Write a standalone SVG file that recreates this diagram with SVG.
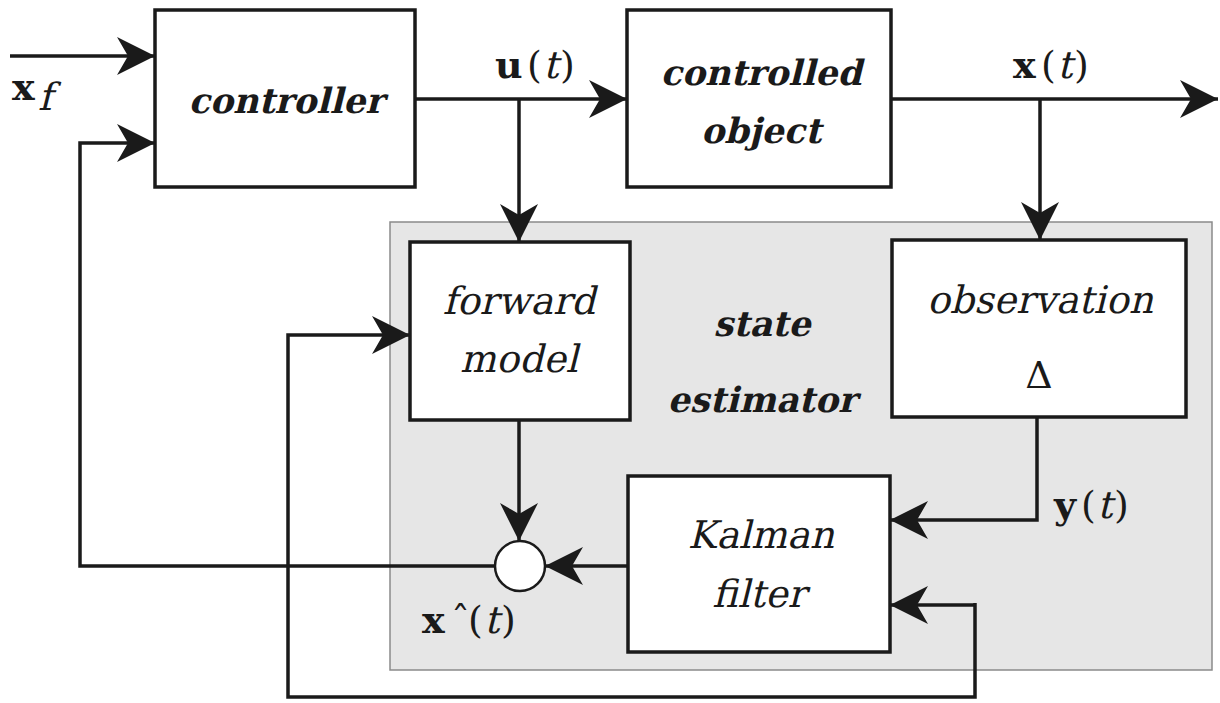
<svg xmlns="http://www.w3.org/2000/svg" width="1220" height="703" viewBox="0 0 1220 703">
<style>
.box{fill:#fff;stroke:#1a1a1a;stroke-width:3.5}
.ln{fill:none;stroke:#1a1a1a;stroke-width:3.5}
.bi{font-family:"DejaVu Serif",serif;font-weight:bold;font-size:35px;fill:#1a1a1a;text-anchor:middle}
.it{font-family:"DejaVu Serif",serif;font-size:38px;fill:#1a1a1a;text-anchor:middle}
.m{font-family:"DejaVu Serif",serif;font-size:38px;fill:#1a1a1a}
.mb{font-family:"DejaVu Serif",serif;font-size:38px;font-weight:bold;fill:#1a1a1a}
</style>
<defs>
<marker id="ah" markerUnits="userSpaceOnUse" markerWidth="44" markerHeight="44" viewBox="-42 -22 44 44" refX="0" refY="0" orient="auto">
<path d="M0,0 L-38,-19 L-27,0 L-38,19 z" fill="#1a1a1a"/>
</marker>
</defs>
<rect id="estimator-bg" x="390" y="222" width="822" height="448" fill="#e6e6e6" stroke="#8a8a8a" stroke-width="1.5"/>
<g id="connectors">
<path class="ln" d="M10,56 H155" marker-end="url(#ah)"/>
<path class="ln" d="M495,566 H80 V143 H155" marker-end="url(#ah)"/>
<path class="ln" d="M415,99 H627" marker-end="url(#ah)"/>
<path class="ln" d="M519,99 V242" marker-end="url(#ah)"/>
<path class="ln" d="M891,99 H1218" marker-end="url(#ah)"/>
<path class="ln" d="M1040,99 V240" marker-end="url(#ah)"/>
<path class="ln" d="M519,420 V541" marker-end="url(#ah)"/>
<path class="ln" d="M628,566 H545" marker-end="url(#ah)"/>
<path class="ln" d="M1037,417 V520 H890" marker-end="url(#ah)"/>
<path class="ln" d="M975,603 V697 H288 V335 H410" marker-end="url(#ah)"/>
<path class="ln" d="M975,605 H890" marker-end="url(#ah)"/>
</g>
<g id="controller">
<rect class="box" x="155" y="10" width="260" height="177"/>
<text class="bi" transform="translate(286,113) skewX(-14)">controller</text>
</g>
<g id="controlled-object">
<rect class="box" x="627" y="10" width="264" height="177"/>
<text class="bi" transform="translate(761,85) skewX(-14)">controlled</text>
<text class="bi" transform="translate(761,143) skewX(-14)">object</text>
</g>
<g id="forward-model">
<rect class="box" x="410" y="242" width="220" height="178"/>
<text class="it" transform="translate(519,314) skewX(-14)">forward</text>
<text class="it" transform="translate(519,372) skewX(-14)">model</text>
</g>
<g id="observation">
<rect class="box" x="892" y="240" width="294" height="177"/>
<text class="it" transform="translate(1040,313) skewX(-14)">observation</text>
<text class="m" x="1039" y="388" text-anchor="middle">Δ</text>
</g>
<g id="kalman-filter">
<rect class="box" x="628" y="476" width="262" height="176"/>
<text class="it" transform="translate(761,548) skewX(-14)">Kalman</text>
<text class="it" transform="translate(759,607) skewX(-14)">filter</text>
</g>
<g id="state-estimator-label">
<text class="bi" transform="translate(762,336) skewX(-14)">state</text>
<text class="bi" transform="translate(762,412) skewX(-14)">estimator</text>
</g>
<g id="sum">
<circle cx="520" cy="566" r="25" fill="#fff" stroke="#1a1a1a" stroke-width="2.5"/>
</g>
<g id="labels">
<text class="mb" x="12" y="100">x</text>
<text class="m" font-size="26" transform="translate(38,110) skewX(-14)">f</text>
<text class="mb" x="495" y="78">u</text>
<text class="m" x="527" y="78">(</text>
<text class="m" transform="translate(543,78) skewX(-14)">t</text>
<text class="m" x="560" y="78">)</text>
<text class="mb" x="1013" y="78">x</text>
<text class="m" x="1041" y="78">(</text>
<text class="m" transform="translate(1057,78) skewX(-14)">t</text>
<text class="m" x="1074" y="78">)</text>
<text class="mb" x="1054" y="518">y</text>
<text class="m" x="1081" y="518">(</text>
<text class="m" transform="translate(1097,518) skewX(-14)">t</text>
<text class="m" x="1114" y="518">)</text>
<text class="mb" x="422" y="633">x</text>
<text class="m" x="451" y="633">ˆ</text>
<text class="m" x="468" y="633">(</text>
<text class="m" transform="translate(484,633) skewX(-14)">t</text>
<text class="m" x="501" y="633">)</text>
</g>
</svg>
